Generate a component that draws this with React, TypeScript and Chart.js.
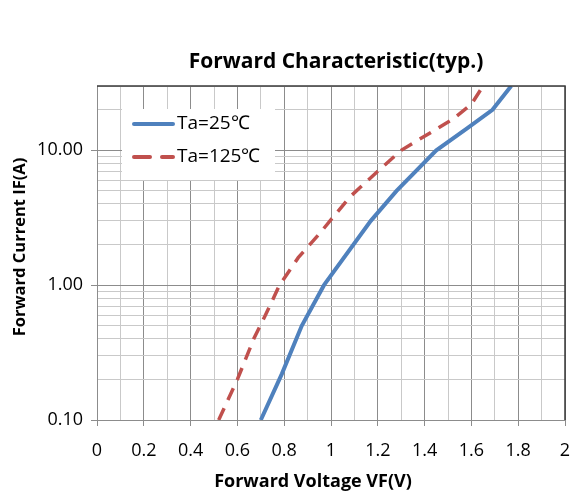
import React, { useEffect, useRef } from "react";
import { Chart, registerables } from "chart.js";

Chart.register(...registerables);

// ---- data ----
const seriesLabels = ["Ta=25℃", "Ta=125℃"];
const vf25 = [0.7, 0.79, 0.875, 0.97, 1.17, 1.28, 1.45, 1.58, 1.69, 1.77];
const if25 = [0.1, 0.22, 0.5, 1.0, 3.0, 5.0, 10, 14.5, 20, 30];
const vf125 = [0.52, 0.6, 0.67, 0.72, 0.78, 0.86, 0.95, 1.08, 1.2, 1.3, 1.52, 1.6, 1.65];
const if125 = [0.1, 0.2, 0.4, 0.6, 1.0, 1.6, 2.4, 4.5, 7, 10, 17, 22, 30];

const xTickValues = [0, 0.2, 0.4, 0.6, 0.8, 1, 1.2, 1.4, 1.6, 1.8, 2];
const xTickLabels = ["0", "0.2", "0.4", "0.6", "0.8", "1", "1.2", "1.4", "1.6", "1.8", "2"];
const yMajorValues = [0.1, 1, 10];
const yMajorLabels = ["0.10", "1.00", "10.00"];
const yMantissas = [1, 2, 3, 4, 5, 6, 7, 8, 9];

const titleText = "Forward Characteristic(typ.)";
const xTitleText = "Forward Voltage VF(V)";
const yTitleText = "Forward Current IF(A)";

const FONT = "'Open Sans', sans-serif";
const BLUE = "#4f81bd";
const RED = "#c0504d";
const MAJOR = "#8c8c8c";
const MINOR = "#c9c9c9";

const near = (a: number, b: number) => Math.abs(a - b) < 1e-6;

export default function App() {
  const ref = useRef<HTMLCanvasElement>(null);

  useEffect(() => {
    document.body.style.margin = "0";
    const canvas = ref.current;
    if (!canvas) return;

    const yGrid: number[] = [];
    [0.1, 1, 10].forEach((d) => yMantissas.forEach((m) => {
      const v = +(m * d).toPrecision(3);
      if (v <= 30) yGrid.push(v);
    }));
    const xGrid: number[] = [];
    for (let i = 0; i < xTickValues.length; i++) {
      xGrid.push(xTickValues[i]);
      if (i < xTickValues.length - 1) xGrid.push(+((xTickValues[i] + xTickValues[i + 1]) / 2).toFixed(2));
    }

    const overlay = {
      id: "overlay",
      afterDraw(chart: any) {
        const { ctx, chartArea: a } = chart;
        ctx.save();
        // frame top/right
        ctx.strokeStyle = "#3a3a3a";
        ctx.lineWidth = 1.5;
        ctx.beginPath();
        ctx.moveTo(a.left, a.top);
        ctx.lineTo(a.right, a.top);
        ctx.lineTo(a.right, a.bottom);
        ctx.stroke();

        // title
        ctx.fillStyle = "#000";
        ctx.textAlign = "center";
        ctx.textBaseline = "middle";
        ctx.font = `bold 21px ${FONT}`;
        ctx.fillText(titleText, 336, 62);
        ctx.font = `bold 18px ${FONT}`;
        ctx.fillText(xTitleText, 313, 482);
        ctx.save();
        ctx.translate(20, 247);
        ctx.rotate(-Math.PI / 2);
        ctx.font = `bold 16.5px ${FONT}`;
        ctx.fillText(yTitleText, 0, 0);
        ctx.restore();

        // legend
        const lx = 122, ly = 109, lw = 153, lh = 71;
        ctx.fillStyle = "#fff";
        ctx.fillRect(lx, ly, lw, lh);
        const rows = [
          { y: 124, color: BLUE, dash: [] as number[], w: 4 },
          { y: 157, color: RED, dash: [16, 12], w: 4 },
        ];
        rows.forEach((r, i) => {
          ctx.strokeStyle = r.color;
          ctx.lineWidth = r.w;
          ctx.lineCap = "round";
          ctx.setLineDash(r.dash);
          ctx.beginPath();
          ctx.moveTo(134, r.y);
          ctx.lineTo(173, r.y);
          ctx.stroke();
          ctx.setLineDash([]);
          ctx.fillStyle = "#000";
          ctx.font = `19px ${FONT}`;
          ctx.textAlign = "left";
          ctx.textBaseline = "middle";
          ctx.fillText(chart.data.datasets[i].label, 177, r.y);
        });
        ctx.restore();
      },
    };

    const chart = new Chart(canvas, {
      type: "line",
      data: {
        datasets: [
          {
            label: seriesLabels[0],
            data: vf25.map((x, i) => ({ x, y: if25[i] })),
            borderColor: BLUE,
            borderWidth: 4,
            pointRadius: 0,
            tension: 0,
          },
          {
            label: seriesLabels[1],
            data: vf125.map((x, i) => ({ x, y: if125[i] })),
            borderColor: RED,
            borderWidth: 3.5,
            borderDash: [13, 9],
            pointRadius: 0,
            tension: 0,
          },
        ],
      },
      options: {
        animation: false,
        responsive: true,
        maintainAspectRatio: false,
        layout: { padding: { top: 86, right: 0, left: 0, bottom: 0 } },
        plugins: { legend: { display: false }, title: { display: false }, tooltip: { enabled: false } },
        scales: {
          x: {
            type: "linear",
            min: 0,
            max: 2,
            afterBuildTicks: (s: any) => { s.ticks = xGrid.map((v) => ({ value: v })); },
            afterFit: (s: any) => { s.height = 73; s.paddingRight = 7; s.paddingLeft = 0; },
            ticks: {
              autoSkip: false,
              maxRotation: 0,
              padding: 14,
              color: "#000",
              font: { family: FONT, size: 18 },
              callback: (v: any) => {
                const idx = xTickValues.findIndex((t) => near(t, Number(v)));
                return idx >= 0 ? xTickLabels[idx] : "";
              },
            },
            grid: {
              color: (c: any) => (xTickValues.some((t) => near(t, c.tick?.value)) ? MAJOR : MINOR),
              tickColor: (c: any) => (xTickValues.some((t) => near(t, c.tick?.value)) ? MAJOR : "rgba(0,0,0,0)"),
              tickLength: 6,
              lineWidth: 1,
            },
            border: { color: MAJOR, width: 1 },
          },
          y: {
            type: "logarithmic",
            min: 0.1,
            max: 30,
            afterBuildTicks: (s: any) => { s.ticks = yGrid.map((v) => ({ value: v })); },
            afterFit: (s: any) => { s.width = 97; s.paddingTop = 0; s.paddingBottom = 0; },
            ticks: {
              autoSkip: false,
              padding: 8,
              color: "#000",
              font: { family: FONT, size: 18 },
              callback: (v: any) => {
                const idx = yMajorValues.findIndex((t) => near(t, Number(v)));
                return idx >= 0 ? yMajorLabels[idx] : "";
              },
            },
            grid: {
              color: (c: any) => (yMajorValues.some((t) => near(t, c.tick?.value)) ? MAJOR : MINOR),
              tickColor: (c: any) => (yMajorValues.some((t) => near(t, c.tick?.value)) ? MAJOR : "rgba(0,0,0,0)"),
              tickLength: 6,
              lineWidth: 1,
            },
            border: { color: MAJOR, width: 1 },
          },
        },
      },
      plugins: [overlay],
    } as any);

    return () => chart.destroy();
  }, []);

  return (
    <div style={{ width: 572, height: 493, position: "relative" }}>
      <canvas ref={ref} />
    </div>
  );
}
